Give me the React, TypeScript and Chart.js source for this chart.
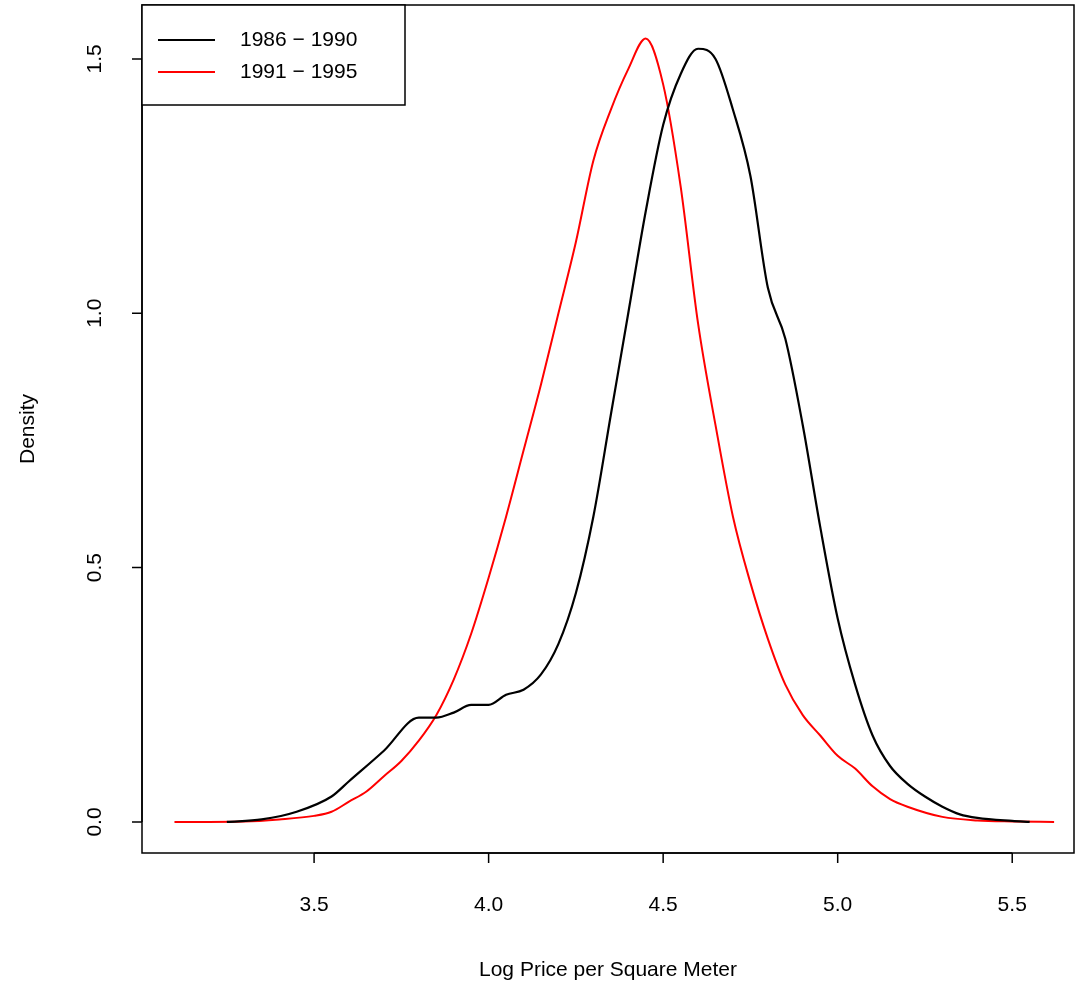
import React, { useEffect, useRef } from "react";
import { Chart, registerables } from "chart.js";
Chart.register(...registerables);

const seriesNames = ["1986 \u2212 1990", "1991 \u2212 1995"];
const blackX = [3.25,3.35,3.45,3.55,3.6,3.7,3.8,3.85,3.9,3.95,4.0,4.05,4.1,4.15,4.2,4.25,4.3,4.35,4.4,4.45,4.5,4.55,4.6,4.65,4.7,4.75,4.8,4.85,4.9,4.95,5.0,5.05,5.1,5.15,5.2,5.25,5.3,5.35,5.4,5.5,5.55];
const blackY = [0,0.005,0.02,0.05,0.08,0.14,0.205,0.205,0.215,0.23,0.23,0.25,0.26,0.29,0.35,0.45,0.6,0.8,1.0,1.2,1.37,1.47,1.52,1.5,1.4,1.27,1.05,0.95,0.78,0.58,0.4,0.27,0.17,0.11,0.075,0.05,0.03,0.015,0.008,0.002,0];
const redX = [3.1,3.3,3.4,3.5,3.55,3.6,3.65,3.7,3.75,3.8,3.85,3.9,3.95,4.0,4.05,4.1,4.15,4.2,4.25,4.3,4.35,4.4,4.45,4.5,4.55,4.6,4.65,4.7,4.75,4.8,4.85,4.9,4.95,5.0,5.05,5.1,5.15,5.2,5.3,5.4,5.5,5.62];
const redY = [0,0.001,0.005,0.012,0.02,0.04,0.06,0.09,0.12,0.16,0.21,0.28,0.37,0.48,0.6,0.73,0.86,1.0,1.14,1.3,1.4,1.48,1.54,1.45,1.25,0.98,0.78,0.6,0.47,0.36,0.27,0.21,0.17,0.13,0.105,0.07,0.045,0.03,0.01,0.003,0.001,0];
const xTicks = [3.5, 4.0, 4.5, 5.0, 5.5];
const yTicks = [0.0, 0.5, 1.0, 1.5];
const xTitle = "Log Price per Square Meter";
const yTitle = "Density";

const FONT = "21px 'Liberation Sans', Arial, sans-serif";

const rPlot = {
  id: "rplot",
  afterDraw(chart: any) {
    const { ctx, chartArea: a, scales } = chart;
    const xs = scales.x, ys = scales.y;
    ctx.save();
    ctx.strokeStyle = "#000"; ctx.lineWidth = 1.5; ctx.fillStyle = "#000";
    ctx.strokeRect(a.left, a.top, a.right - a.left, a.bottom - a.top);
    ctx.font = FONT;
    const x0 = xs.getPixelForValue(xTicks[0]), x1 = xs.getPixelForValue(xTicks[xTicks.length - 1]);
    ctx.beginPath(); ctx.moveTo(x0, a.bottom); ctx.lineTo(x1, a.bottom);
    xTicks.forEach(t => { const p = xs.getPixelForValue(t); ctx.moveTo(p, a.bottom); ctx.lineTo(p, a.bottom + 10); });
    ctx.stroke();
    ctx.textAlign = "center"; ctx.textBaseline = "middle";
    xTicks.forEach(t => ctx.fillText(t.toFixed(1), xs.getPixelForValue(t), 905));
    ctx.fillText(xTitle, (a.left + a.right) / 2, 970);
    const y0 = ys.getPixelForValue(yTicks[0]), y1 = ys.getPixelForValue(yTicks[yTicks.length - 1]);
    ctx.beginPath(); ctx.moveTo(a.left, y0); ctx.lineTo(a.left, y1);
    yTicks.forEach(t => { const p = ys.getPixelForValue(t); ctx.moveTo(a.left, p); ctx.lineTo(a.left - 10, p); });
    ctx.stroke();
    yTicks.forEach(t => {
      ctx.save(); ctx.translate(95, ys.getPixelForValue(t)); ctx.rotate(-Math.PI / 2);
      ctx.fillText(t.toFixed(1), 0, 0); ctx.restore();
    });
    ctx.save(); ctx.translate(28, (a.top + a.bottom) / 2); ctx.rotate(-Math.PI / 2);
    ctx.fillText(yTitle, 0, 0); ctx.restore();
    ctx.fillStyle = "#fff"; ctx.fillRect(a.left, a.top, 263, 100);
    ctx.strokeRect(a.left, a.top, 263, 100);
    const cols = ["#000", "#ff0000"];
    seriesNames.forEach((n, i) => {
      const y = 40 + i * 32;
      ctx.strokeStyle = cols[i]; ctx.lineWidth = 2;
      ctx.beginPath(); ctx.moveTo(158, y); ctx.lineTo(215, y); ctx.stroke();
      ctx.fillStyle = "#000"; ctx.textAlign = "left"; ctx.fillText(n, 240, y);
    });
    ctx.restore();
  },
};

export default function App() {
  const ref = useRef<HTMLCanvasElement>(null);
  useEffect(() => {
    document.body.style.margin = "0";
    const c = new Chart(ref.current!, {
      type: "line",
      data: {
        datasets: [
          { label: seriesNames[0], data: blackX.map((x, i) => ({ x, y: blackY[i] })), borderColor: "#000", borderWidth: 2.2, pointRadius: 0, cubicInterpolationMode: "monotone" },
          { label: seriesNames[1], data: redX.map((x, i) => ({ x, y: redY[i] })), borderColor: "#ff0000", borderWidth: 2, pointRadius: 0, cubicInterpolationMode: "monotone" },
        ],
      },
      options: {
        animation: false, responsive: false,
        layout: { padding: { left: 142, top: 5, right: 1, bottom: 134 } },
        plugins: { legend: { display: false }, tooltip: { enabled: false } },
        scales: {
          x: { type: "linear", min: 3.007, max: 5.677, display: false },
          y: { min: -0.061, max: 1.606, display: false },
        },
      },
      plugins: [rPlot],
    });
    return () => c.destroy();
  }, []);
  return <canvas ref={ref} width={1075} height={987} style={{ display: "block" }} />;
}
